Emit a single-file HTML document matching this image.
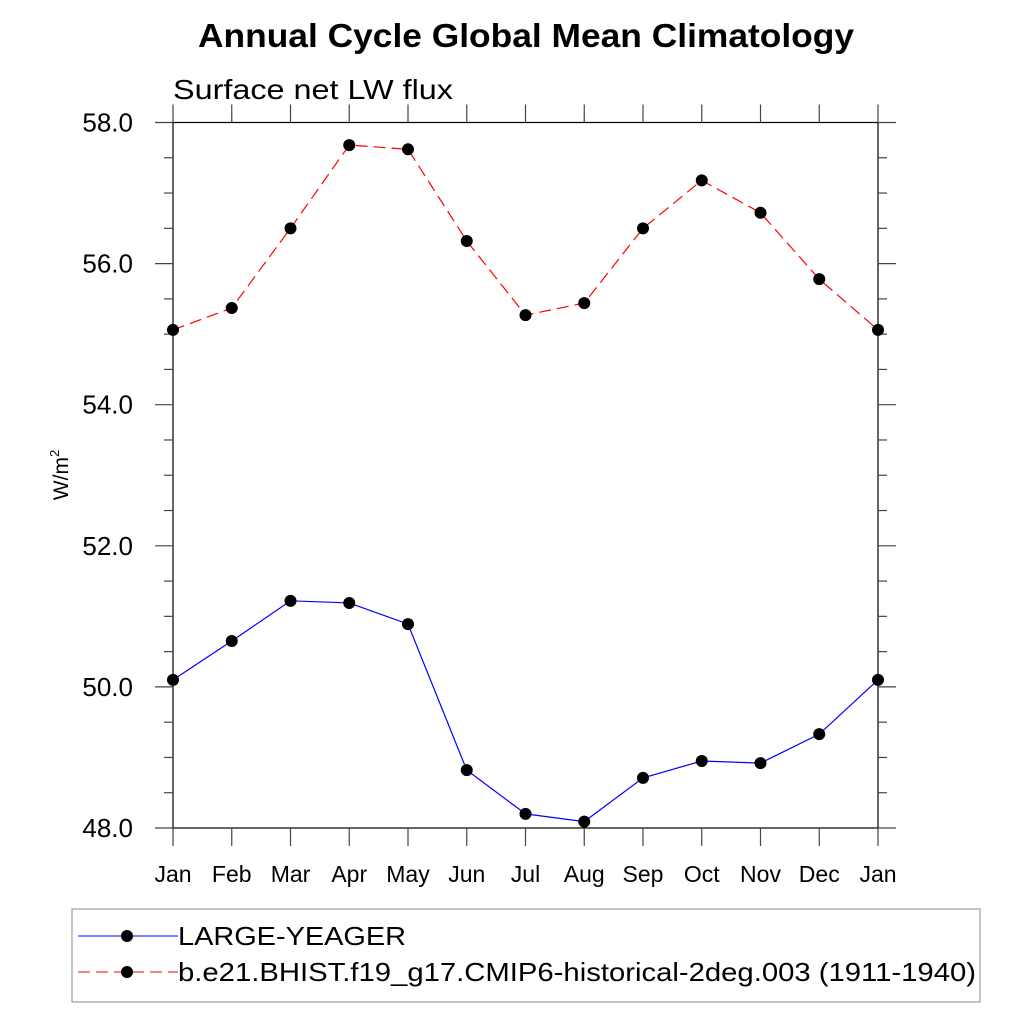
<!DOCTYPE html>
<html><head><meta charset="utf-8"><style>
body{margin:0;background:#fff;}
svg{display:block;font-family:"Liberation Sans",sans-serif;}
</style></head><body>
<svg id="chart" width="1024" height="1024" viewBox="0 0 1024 1024">
<text x="198" y="47" font-size="33" font-weight="bold" textLength="656" lengthAdjust="spacingAndGlyphs">Annual Cycle Global Mean Climatology</text>
<text x="173" y="99" font-size="28" textLength="280" lengthAdjust="spacingAndGlyphs">Surface net LW flux</text>
<text transform="translate(68,475) rotate(-90)" text-anchor="middle" font-size="21">W/m<tspan dy="-9" font-size="13">2</tspan></text>
<g id="axes"></g>
<g id="series"></g>
<g>
<rect x="72" y="909" width="908" height="93" fill="none" stroke="#888" stroke-width="1"/>
<g>
<line x1="78" y1="936" x2="178" y2="936" stroke="#0000ff" stroke-width="1"/>
<circle cx="127" cy="936" r="6" fill="#000"/>
<text x="178" y="945" font-size="26" textLength="228" lengthAdjust="spacingAndGlyphs">LARGE-YEAGER</text>
</g>
<g>
<line x1="78" y1="972" x2="178" y2="972" stroke="#ff0000" stroke-width="1" stroke-dasharray="12,6"/>
<circle cx="127" cy="972" r="6" fill="#000"/>
<text x="178" y="981" font-size="26" textLength="798" lengthAdjust="spacingAndGlyphs">b.e21.BHIST.f19_g17.CMIP6-historical-2deg.003 (1911-1940)</text>
</g>
</g>
</svg>
<script>
const months=["Jan","Feb","Mar","Apr","May","Jun","Jul","Aug","Sep","Oct","Nov","Dec","Jan"];
const yTicks=[48,50,52,54,56,58];
const largeYeager=[50.10,50.65,51.22,51.19,50.89,48.82,48.20,48.09,48.71,48.95,48.92,49.33,50.10];
const bhist=[55.06,55.37,56.50,57.68,57.62,56.32,55.27,55.44,56.50,57.18,56.72,55.78,55.06];
const NS="http://www.w3.org/2000/svg";
const L=173,R=878,T=122.5,B=828,ymin=48,ymax=58;
const xs=i=>L+(R-L)*i/(months.length-1);
const ys=v=>B-(B-T)*(v-ymin)/(ymax-ymin);
function mk(tag,attrs,parent){const e=document.createElementNS(NS,tag);for(const k in attrs)e.setAttribute(k,attrs[k]);parent.appendChild(e);return e;}
const ax=document.getElementById('axes');
const frame=mk('rect',{x:L,y:T,width:R-L,height:B-T,fill:'none',stroke:'#000','stroke-width':1.2},ax);


for(let v=ymin;v<=ymax+1e-9;v+=0.5){
  const y=ys(v),maj=Math.abs(v-Math.round(v/2)*2)<1e-9,len=maj?18:9;
  const t1=mk('line',{x1:L-len,y1:y,x2:L,y2:y,stroke:'#444','stroke-width':1.2},ax);
  
  
  const t2=mk('line',{x1:R,y1:y,x2:R+len,y2:y,stroke:'#444','stroke-width':1.2},ax);
  
  
}
yTicks.forEach(v=>{
  const t=mk('text',{x:133,y:ys(v)+9,'text-anchor':'end','font-size':26},ax);
  t.textContent=v.toFixed(1);
  
  
});
months.forEach((m,i)=>{
  const x=xs(i);
  const a=mk('line',{x1:x,y1:B,x2:x,y2:B+18,stroke:'#444','stroke-width':1.2},ax);
  
  
  const b=mk('line',{x1:x,y1:T-18,x2:x,y2:T,stroke:'#444','stroke-width':1.2},ax);
  
  
  const t=mk('text',{x:x,y:882,'text-anchor':'middle','font-size':23},ax);
  t.textContent=m;
  
  
});
const sg=document.getElementById('series');
function drawSeries(vals,color,dash,name){
  const g=mk('g',{},sg);
  
  
  const pts=vals.map((v,i)=>xs(i)+','+ys(v)).join(' ');
  const pl=mk('polyline',{points:pts,fill:'none',stroke:color,'stroke-width':1.2},g);
  if(dash)pl.setAttribute('stroke-dasharray',dash);
  
  
  vals.forEach((v,i)=>{
    const c=mk('circle',{cx:xs(i),cy:ys(v),r:6,fill:'#000'},g);
    
    
  });
}
drawSeries(bhist,'#ff0000','12,6','bhist-series');
drawSeries(largeYeager,'#0000ff',null,'large-yeager-series');
</script>
</body></html>
